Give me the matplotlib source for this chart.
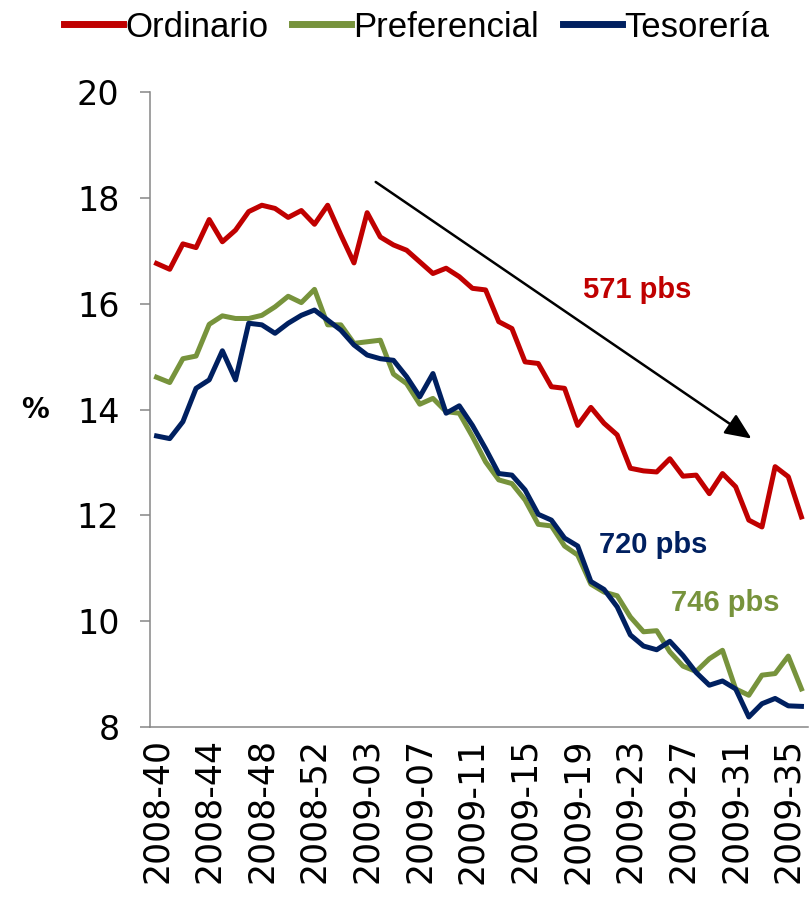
import matplotlib
matplotlib.use("Agg")
import matplotlib.pyplot as plt

# weekly labels 2008-40 .. 2009-36
weeks = [f"2008-{w:02d}" for w in range(40, 53)] + [f"2009-{w:02d}" for w in range(0, 37)]

ordinario = [16.76, 16.65, 17.13, 17.06, 17.59, 17.17, 17.39, 17.74, 17.86, 17.80,
             17.63, 17.76, 17.50, 17.86, 17.30, 16.77, 17.72, 17.26, 17.11, 17.01,
             16.79, 16.57, 16.67, 16.51, 16.29, 16.26, 15.66, 15.53, 14.90, 14.87,
             14.43, 14.40, 13.70, 14.04, 13.74, 13.52, 12.89, 12.84, 12.82, 13.07,
             12.74, 12.76, 12.41, 12.79, 12.54, 11.91, 11.78, 12.92, 12.73, 11.97]

preferencial = [14.61, 14.51, 14.96, 15.01, 15.61, 15.77, 15.72, 15.72, 15.78, 15.94,
                16.14, 16.02, 16.27, 15.60, 15.60, 15.25, 15.28, 15.31, 14.67, 14.49,
                14.10, 14.21, 13.96, 13.93, 13.49, 13.01, 12.67, 12.60, 12.29, 11.83,
                11.80, 11.42, 11.25, 10.70, 10.55, 10.48, 10.08, 9.80, 9.82, 9.42,
                9.15, 9.05, 9.29, 9.45, 8.72, 8.60, 8.98, 9.01, 9.34, 8.72]

tesoreria = [13.50, 13.45, 13.77, 14.40, 14.56, 15.11, 14.56, 15.63, 15.60, 15.44,
             15.63, 15.78, 15.88, 15.69, 15.50, 15.22, 15.03, 14.96, 14.93, 14.62,
             14.24, 14.68, 13.93, 14.07, 13.70, 13.26, 12.79, 12.76, 12.48, 12.02,
             11.91, 11.57, 11.42, 10.75, 10.60, 10.27, 9.74, 9.53, 9.46, 9.62,
             9.35, 9.03, 8.79, 8.87, 8.72, 8.19, 8.44, 8.54, 8.40, 8.39]

red = "#C00000"
green = "#77933C"
blue = "#002060"

fig = plt.figure(figsize=(8.09, 9.02), dpi=100)
ax = fig.add_axes([0.1854, 0.194, 0.8134, 0.704])

x = range(len(weeks))
ax.plot(x, ordinario, color=red, lw=3.6, solid_joinstyle="round", label="Ordinario")
ax.plot(x, preferencial, color=green, lw=3.6, solid_joinstyle="round", label="Preferencial")
ax.plot(x, tesoreria, color=blue, lw=3.6, solid_joinstyle="round", label="Tesorería")

ax.set_xlim(-0.5, len(weeks) - 0.5)
ax.set_ylim(8, 20)
ax.set_yticks(range(8, 21, 2))
ax.set_xticks(list(x)[::4])
ax.set_xticklabels(weeks[::4], rotation=90)

for s in ["top", "right"]:
    ax.spines[s].set_visible(False)
for s in ["left", "bottom"]:
    ax.spines[s].set_color("#868686")
    ax.spines[s].set_linewidth(1.1)

ax.tick_params(axis="y", direction="out", length=7, width=1.1, color="#868686",
               labelsize=24, pad=15)
ax.tick_params(axis="x", length=0, labelsize=25, pad=8)

fig.text(0.043, 0.545, "%", fontsize=20, fontweight="bold", ha="center", va="center")

# annotations
ax.annotate("", xy=(45.2, 13.45), xytext=(16.65, 18.3),
            arrowprops=dict(arrowstyle="-|>,head_length=1.6,head_width=0.7",
                            color="black", lw=1.8, shrinkA=0, shrinkB=0))
ax.text(36.5, 16.26, "571 pbs", color=red, fontsize=21, fontweight="bold",
        family="Liberation Sans", ha="center", va="center")
ax.text(37.7, 11.44, "720 pbs", color=blue, fontsize=21, fontweight="bold",
        family="Liberation Sans", ha="center", va="center")
ax.text(43.2, 10.34, "746 pbs", color=green, fontsize=21, fontweight="bold",
        family="Liberation Sans", ha="center", va="center")

leg = fig.legend(loc="center", bbox_to_anchor=(0.515, 0.970), ncol=3, frameon=False,
                 prop={"family": "Liberation Sans", "size": 25},
                 handlelength=1.7, handletextpad=0.05, columnspacing=0.7)
for h in leg.get_lines():
    h.set_linewidth(5)

fig.savefig("out.png", dpi=100)
